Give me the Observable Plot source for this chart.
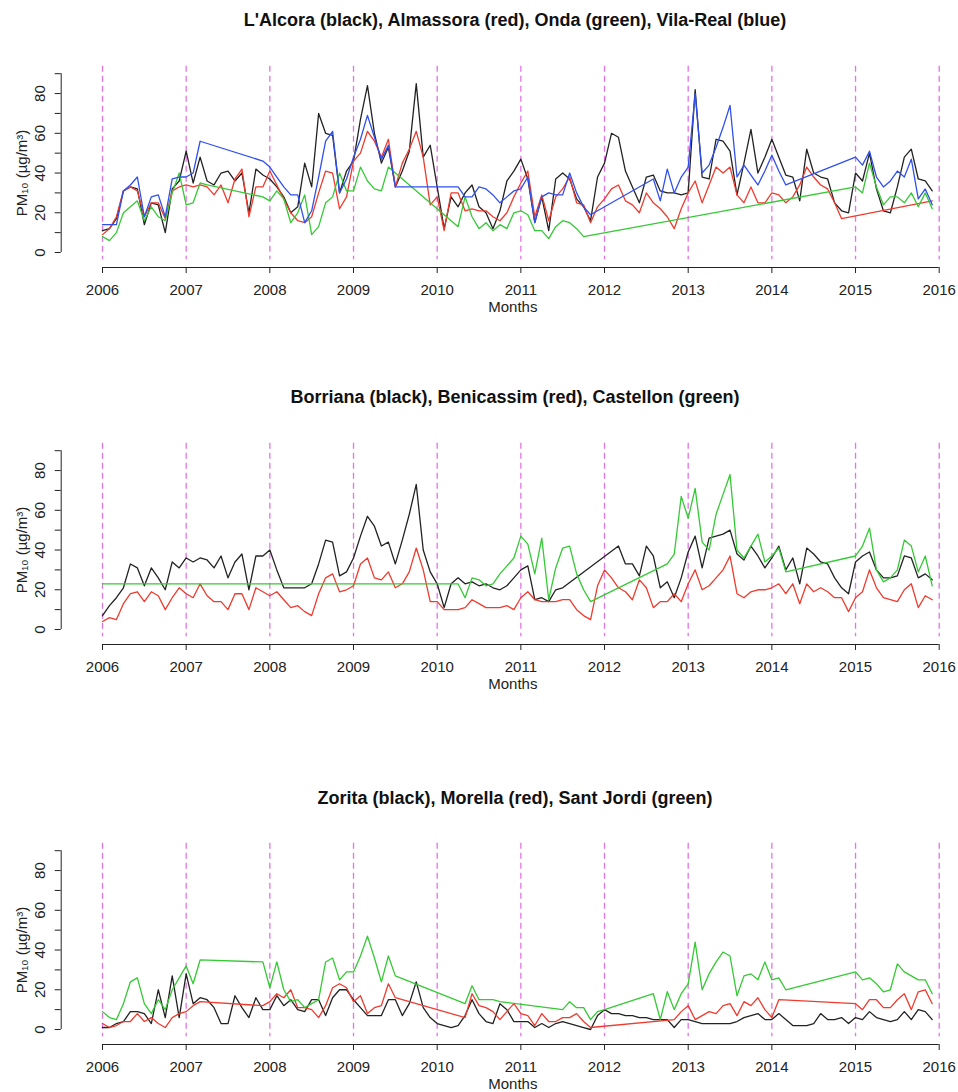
<!DOCTYPE html>
<html>
<head>
<meta charset="utf-8">
<script src="https://cdn.jsdelivr.net/npm/d3@7"></script>
<script src="https://cdn.jsdelivr.net/npm/@observablehq/plot@0.6"></script>
<style>
html, body { margin: 0; padding: 0; background: #fff; overflow: hidden; }
#page { position: relative; width: 958px; height: 1092px; font-family: "Liberation Sans", Arial, Helvetica, sans-serif; }
.title { position: absolute; left: 0; width: 1030px; text-align: center; font-weight: bold; font-size: 18px; line-height: 22px; color: #111; }
</style>
</head>
<body>
<div id="page"></div>
<script>
const N = null;
const startYear = 2006;
const years = [2006, 2007, 2008, 2009, 2010, 2011, 2012, 2013, 2014, 2015, 2016];
const yTicks = [0, 10, 20, 30, 40, 50, 60, 70, 80, 90];
const yLabels = [0, 20, 40, 60, 80];

// Panel 1 (monthly, Jan 2006 .. Dec 2015)
const alcora = [
  11,12,17,31,33,32,14,25,24,10,32,36,
  51,35,48,36,34,40,41,36,40,20,42,39,
  37,33,28,20,23,45,33,70,60,59,30,41,
  46,67,84,60,45,53,33,41,51,85,48,54,
  33,12,28,23,30,34,23,20,12,21,36,41,
  47,37,15,28,11,37,40,37,27,23,16,38,
  45,60,58,41,33,25,38,39,31,30,30,29,
  30,82,38,37,57,56,51,29,45,62,40,48,
  57,48,39,38,26,52,40,38,37,25,21,20,
  40,36,50,32,21,20,33,48,52,37,36,31];
const almassora = [
  9,12,18,31,33,31,18,25,25,17,31,33,
  34,33,34,33,29,34,25,37,42,18,33,33,
  41,34,27,20,16,15,18,30,41,40,22,28,
  46,50,61,56,48,57,33,45,52,61,48,24,
  28,11,30,30,21,22,21,21,18,16,20,28,
  35,41,18,29,16,28,32,38,25,24,15,23,
  27,32,34,26,24,20,30,25,22,18,12,22,
  30,36,25,34,43,40,43,29,25,33,25,25,
  30,29,25,28,34,43,38,34,32,25,17,N,
  N,N,N,N,N,N,N,N,N,N,N,26];
const onda = [
  8,6,10,20,23,26,16,23,18,16,30,40,
  24,25,35,34,N,N,N,N,N,N,N,28,
  26,31,27,15,20,29,9,13,25,28,40,31,
  31,43,36,32,31,43,N,N,N,N,N,N,
  N,N,N,13,28,18,12,15,11,14,12,20,
  21,19,11,11,7,13,16,15,12,8,N,N,
  N,N,N,N,N,N,N,N,N,N,N,N,
  N,N,N,N,N,N,N,N,N,N,N,N,
  N,N,N,N,N,N,N,N,N,N,N,N,
  33,30,45,33,24,28,28,25,30,23,30,22];
const vilareal = [
  14,14,14,31,34,38,18,28,29,18,37,38,
  38,40,56,N,N,N,N,N,N,N,N,46,
  43,38,33,29,29,15,21,38,56,61,30,37,
  48,57,69,58,47,54,33,N,N,N,N,N,
  N,N,N,33,28,28,33,32,29,25,28,31,
  32,38,15,28,30,29,29,40,30,23,19,N,
  N,N,N,N,N,N,N,37,26,42,30,38,
  43,80,40,44,53,63,74,38,44,39,34,41,
  49,41,34,N,N,N,N,N,N,N,N,N,
  48,44,51,38,33,36,41,38,47,27,32,24];

// Panel 2
const borriana = [
  7,12,16,21,33,31,22,31,26,20,34,31,
  36,34,36,35,31,37,26,34,38,20,37,37,
  40,30,21,21,21,21,23,33,45,44,27,29,
  36,47,57,52,42,44,33,45,58,73,40,29,
  23,11,23,26,23,24,22,23,21,20,22,26,
  30,32,15,16,14,20,21,N,N,N,N,N,
  N,N,42,33,33,27,42,37,21,24,16,26,
  39,47,31,46,47,48,50,38,35,42,37,31,
  36,42,30,36,23,41,38,34,33,26,21,18,
  34,37,39,30,26,26,27,37,36,26,28,25];
const benicassim = [
  4,6,5,13,18,19,14,19,17,10,16,21,
  18,16,23,17,14,14,10,18,18,10,21,19,
  17,19,15,11,12,9,7,18,26,28,19,20,
  22,33,36,26,25,29,21,23,29,41,30,14,
  14,10,10,10,11,15,13,11,11,11,12,10,
  16,19,15,14,14,14,15,15,10,7,5,22,
  30,26,21,19,15,25,21,11,14,14,18,14,
  23,30,20,22,26,30,37,18,16,19,20,20,
  21,23,18,23,13,23,19,21,19,16,16,9,
  16,19,30,21,16,15,14,20,23,11,17,15];
const castellon = [
  23,N,N,N,N,N,N,N,N,N,N,N,
  N,N,N,N,N,N,N,N,N,N,N,N,
  N,N,N,N,N,N,N,N,N,N,N,N,
  N,N,N,N,N,N,N,N,N,N,N,N,
  N,N,23,23,16,26,25,22,23,28,32,36,
  47,43,28,46,15,31,41,42,28,20,14,N,
  N,N,N,N,N,N,N,N,N,33,38,67,
  56,71,44,40,58,68,78,40,36,42,48,34,
  37,41,29,N,N,N,N,N,N,N,N,N,
  37,42,51,30,24,26,30,45,42,29,37,22];

// Panel 3
const zorita = [
  1,1,3,4,9,9,8,3,20,6,27,6,
  28,13,16,15,11,3,3,17,11,6,16,10,
  10,17,12,15,10,9,15,15,7,16,20,20,
  15,11,7,7,7,15,15,7,13,24,11,6,
  3,2,1,2,7,15,8,4,3,13,10,4,
  4,4,1,3,1,3,4,3,2,1,0,7,
  10,8,8,7,7,6,6,5,5,5,1,5,
  5,4,3,3,3,3,3,4,6,7,8,5,
  5,8,5,2,2,2,3,8,5,5,6,3,
  6,5,9,6,5,4,5,9,5,10,9,5];
const morella = [
  3,1,2,4,4,8,4,6,3,1,6,8,
  9,12,14,N,N,N,N,N,N,N,N,12,
  14,18,16,20,11,11,10,6,12,21,23,21,
  14,17,8,11,12,23,16,N,N,N,N,N,
  N,N,N,N,6,18,12,11,9,5,9,13,
  8,7,2,8,4,4,6,6,8,4,1,N,
  N,N,N,N,N,N,N,N,N,N,5,9,
  12,5,7,9,8,12,13,7,14,12,16,10,
  6,15,N,N,N,N,N,N,N,N,N,N,
  13,10,15,15,11,11,15,18,10,19,20,13];
const santjordi = [
  9,6,5,13,24,26,13,8,15,10,20,26,
  32,23,35,N,N,N,N,N,N,N,N,34,
  21,34,20,14,15,11,13,15,34,36,25,29,
  29,37,47,36,24,37,27,N,N,N,N,N,
  N,N,N,N,13,22,15,15,15,14,N,N,
  N,N,N,N,N,N,10,14,11,11,5,9,
  10,N,N,N,N,N,N,18,5,19,10,18,
  23,44,20,28,34,39,37,17,27,28,25,34,
  25,26,20,N,N,N,N,N,N,N,N,N,
  29,25,26,23,19,20,33,29,27,25,25,18];

const BLACK = "#222222", RED = "#ee3b2e", GREEN = "#35c935", BLUE = "#3050ee";
const DASH = "#e374e3";

const panels = [
  {title: "L'Alcora (black), Almassora (red), Onda (green), Vila-Real (blue)", titleY: 20, top: 40.3,
   series: [{name: "L'Alcora", values: alcora, color: BLACK}, {name: "Almassora", values: almassora, color: RED},
            {name: "Onda", values: onda, color: GREEN}, {name: "Vila-Real", values: vilareal, color: BLUE}]},
  {title: "Borriana (black), Benicassim (red), Castellon (green)", titleY: 397.3, top: 417,
   series: [{name: "Borriana", values: borriana, color: BLACK}, {name: "Benicassim", values: benicassim, color: RED},
            {name: "Castellon", values: castellon, color: GREEN}]},
  {title: "Zorita (black), Morella (red), Sant Jordi (green)", titleY: 798.3, top: 816.7,
   series: [{name: "Zorita", values: zorita, color: BLACK}, {name: "Morella", values: morella, color: RED},
            {name: "Sant Jordi", values: santjordi, color: GREEN}]}
];

const page = document.getElementById("page");

for (const p of panels) {
  const t = document.createElement("div");
  t.className = "title";
  t.textContent = p.title;
  t.style.top = (p.titleY - 11) + "px";
  page.appendChild(t);

  const lineMarks = p.series.map(s => Plot.line(
    s.values.map((v, i) => ({t: startYear + i / 12, v})).filter(d => d.v != null),
    {x: "t", y: "v", stroke: s.color, strokeWidth: 1.3}));

  const chart = Plot.plot({
    width: 958, height: 285,
    marginLeft: 102, marginRight: 19.3, marginTop: 25.8, marginBottom: 65.8,
    x: {domain: [years[0], years[years.length - 1]]},
    y: {domain: [yTicks[0], yTicks[yTicks.length - 1]], range: [212, 33.2]},
    style: {fontFamily: "'Liberation Sans', Arial, Helvetica, sans-serif", fontSize: "15px", color: "#222", background: "transparent", overflow: "visible"},
    marks: [
      Plot.ruleX(years, {stroke: DASH, strokeDasharray: "6,4", strokeWidth: 1.3}),
      ...lineMarks,
      Plot.ruleX([years[0]], {y1: yTicks[0], y2: yTicks[yTicks.length - 1], dx: -41.3}),
      Plot.axisY(yTicks, {anchor: "left", tickSize: 6, dx: -41.3, tickFormat: () => "", label: null}),
      Plot.text(yLabels, {y: d => d, text: d => String(d), frameAnchor: "left", dx: -62, rotate: -90,
        textAnchor: "middle", lineAnchor: "middle", fontSize: 15}),
      Plot.text(["PM\u2081\u2080 (\u00b5g/m\u00b3)"], {text: d => d, frameAnchor: "left", dx: -80, dy: 10, rotate: -90,
        textAnchor: "middle", lineAnchor: "middle", fontSize: 15}),
      Plot.ruleY([yTicks[0]], {x1: years[0], x2: years[years.length - 1], dy: 15}),
      Plot.axisX(years, {anchor: "bottom", tickSize: 6, tickPadding: 11, dy: 7.8, tickFormat: d => String(d), fontSize: 15, label: null}),
      Plot.text(["Months"], {text: d => d, frameAnchor: "bottom", dx: -8, dy: 47.5,
        textAnchor: "middle", lineAnchor: "middle", fontSize: 15})
    ]
  });
  chart.style.position = "absolute";
  chart.style.left = "0px";
  chart.style.top = p.top + "px";
  page.appendChild(chart);
}
</script>
</body>
</html>
